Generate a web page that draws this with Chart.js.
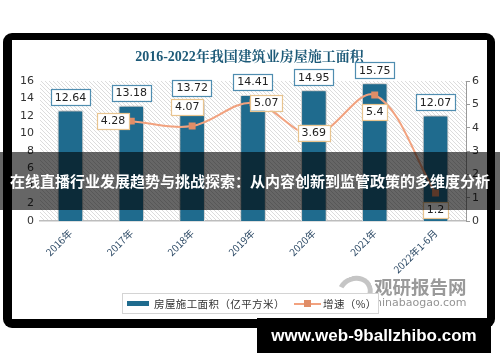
<!DOCTYPE html>
<html>
<head>
<meta charset="utf-8">
<script src="https://cdn.jsdelivr.net/npm/chart.js@4.4.0/dist/chart.umd.min.js"></script>
<style>
    body { margin: 0; width: 500px; height: 362px; background: #fff; position: relative; overflow: hidden; font-family: "Noto Sans CJK SC", sans-serif; }
    #frame { position: absolute; left: 3px; top: 33px; width: 492px; height: 295px; background: #000; border-radius: 9px; }
    #inner { position: absolute; left: 12px; top: 40px; width: 475px; height: 279px; background: #fff; }
    #chartbox { position: absolute; left: 12px; top: 40px; width: 475px; height: 279px; }
    #legend { position: absolute; left: 122px; top: 293px; width: 255px; height: 19px; border: 1px solid #d4d4d4; background: #fff;
        font-size: 10.5px; color: #333; letter-spacing: 0.4px; line-height: 19px; white-space: nowrap; }
    #legend span { position: absolute; top: 0; }
    #logo { position: absolute; left: 337px; top: 276px; width: 26px; height: 22px; border-radius: 50%;
        border: 5px solid rgba(150,150,150,0.55); border-left-color: transparent; transform: rotate(-20deg); }
    #mark { position: absolute; left: 374px; top: 273px; color: rgba(120,120,120,0.75); font-weight: bold; font-size: 18.5px; }
    #mark2 { position: absolute; left: 369px; top: 296px; color: rgba(120,120,120,0.8); font-family: "DejaVu Sans", sans-serif; font-size: 11px; }
    #foot { position: absolute; left: 257px; top: 318px; width: 234px; height: 35px; background: #000; color: #fff; white-space: nowrap;
        font-family: "Liberation Sans", sans-serif; font-weight: bold; font-size: 17px; line-height: 35px; text-align: center; }
    #banner { position: absolute; left: 0; top: 152px; width: 500px; height: 58px; background: rgba(0,0,0,0.6); color: #fff;
        font-weight: bold; font-size: 15px; line-height: 58px; text-align: center; white-space: nowrap; }
</style>
</head>
<body>
<div id="frame"></div>
<div id="inner"></div>
<div id="chartbox"><canvas id="c" width="475" height="279"></canvas></div>
<div id="logo"></div>
<div id="mark">观研报告网</div>
<div id="mark2">chinabaogao.com</div>
<div id="legend">
    <span style="left:4px;top:7px;width:22px;height:5px;background:#1f6b8e"></span>
    <span style="left:31px">房屋施工面积（亿平方米）</span>
    <span style="left:171px;top:9px;width:27px;height:2px;background:#f2a27f"></span>
    <span style="left:181px;top:6px;width:7px;height:7px;background:#e08d67"></span>
    <span style="left:200px">增速（%）</span>
</div>
<div id="foot">www.web-9ballzhibo.com</div>
<div id="banner">在线直播行业发展趋势与挑战探索：从内容创新到监管政策的多维度分析</div>

<script>
// data
let years = ['2016年', '2017年', '2018年', '2019年', '2020年', '2021年', '2022年1-6月'];
let area = [12.64, 13.18, 13.72, 14.41, 14.95, 15.75, 12.07];
let growth = [null, 4.28, 4.07, 5.07, 3.69, 5.4, 1.2];
let growthPos = [null, 'left', 'aboveleft', 'right', 'center', 'below', 'below'];

let title = '2016-2022年我国建筑业房屋施工面积';

// diagonal hatch for the plot background
let makeHatch = function (ctx) {
    let p = document.createElement('canvas');
    p.width = 4; p.height = 4;
    let g = p.getContext('2d');
    g.fillStyle = '#fff';
    g.fillRect(0, 0, 4, 4);
    g.strokeStyle = '#dcdcdc';
    g.lineWidth = 1;
    g.beginPath();
    g.moveTo(-1, -1); g.lineTo(5, 5);
    g.stroke();
    return ctx.createPattern(p, 'repeat');
}

let drawBox = function (ctx, text, cx, cy, border) {
    ctx.font = '11px "DejaVu Sans", sans-serif';
    let w = ctx.measureText(text).width + 8;
    let h = 16;
    ctx.fillStyle = '#fff';
    ctx.fillRect(cx - w / 2, cy - h / 2, w, h);
    ctx.strokeStyle = border;
    ctx.lineWidth = 1.2;
    ctx.strokeRect(Math.round(cx - w / 2) + 0.5, Math.round(cy - h / 2) + 0.5, Math.round(w), h);
    ctx.fillStyle = '#222';
    ctx.textAlign = 'center';
    ctx.textBaseline = 'middle';
    ctx.fillText(text, cx, cy + 0.5);
    return w;
}

let decor = {
    id: 'decor',
    beforeDraw(chart) {
        let ctx = chart.ctx;
        let a = chart.chartArea;
        ctx.save();
        ctx.fillStyle = makeHatch(ctx);
        ctx.fillRect(a.left, a.top, a.right - a.left, a.bottom - a.top);
        ctx.fillStyle = '#1d5a78';
        ctx.font = 'bold 14px "Liberation Serif", "Noto Serif CJK SC", serif';
        ctx.textAlign = 'center';
        ctx.textBaseline = 'middle';
        ctx.fillText(title, chart.width / 2, 17);
        ctx.restore();
    },
    beforeDatasetDraw(chart, args) {
        if (args.index === 0) {
            chart.ctx.save();
            chart.ctx.shadowColor = 'rgba(0,0,0,0.45)';
            chart.ctx.shadowBlur = 4;
        }
    },
    afterDatasetDraw(chart, args) {
        if (args.index === 0) chart.ctx.restore();
    },
    afterDatasetsDraw(chart) {
        let ctx = chart.ctx;
        ctx.save();
        chart.getDatasetMeta(0).data.forEach((bar, i) => {
            drawBox(ctx, area[i].toFixed(2), bar.x, bar.y - 13, '#4f8db0');
        });
        chart.getDatasetMeta(1).data.forEach((pt, i) => {
            if (growth[i] == null) return;
            let t = String(growth[i]);
            ctx.font = '11px "DejaVu Sans", sans-serif';
            let w = ctx.measureText(t).width + 8;
            let x = pt.x, y = pt.y;
            let pos = growthPos[i];
            if (pos === 'left') x = pt.x - w / 2 - 2;
            if (pos === 'right') x = pt.x + w / 2 - 3;
            if (pos === 'aboveleft') { x = pt.x - 5; y = pt.y - 19; }
            if (pos === 'below') { y = pt.y + 17; }
            if (pos === 'center') { y = pt.y - 2; }
            drawBox(ctx, t, x, y, '#e8c48f');
        });
        ctx.restore();
    }
};

new Chart(document.getElementById('c'), {
    type: 'bar',
    data: {
        labels: years,
        datasets: [
            {
                label: '房屋施工面积（亿平方米）',
                data: area,
                backgroundColor: '#1f6b8e',
                borderColor: '#ffffff',
                borderWidth: 1,
                barPercentage: 0.42,
                categoryPercentage: 1,
                yAxisID: 'y',
                order: 2
            },
            {
                type: 'line',
                label: '增速（%）',
                data: growth,
                borderColor: '#f2a27f',
                borderWidth: 2,
                pointStyle: 'rect',
                pointRadius: 3.5,
                pointBackgroundColor: '#e08d67',
                pointBorderColor: '#e08d67',
                tension: 0.35,
                yAxisID: 'y1',
                order: 1
            }
        ]
    },
    options: {
        responsive: false,
        animation: false,
        layout: { padding: { top: 41, left: 0, right: 0, bottom: 0 } },
        plugins: {
            legend: { display: false },
            title: { display: false },
            tooltip: { enabled: false }
        },
        scales: {
            x: {
                grid: { display: false, drawTicks: false },
                border: { color: '#bdbdbd', width: 1.5 },
                ticks: {
                    minRotation: 45, maxRotation: 45, padding: 6,
                    color: '#2d4a66',
                    font: { size: 10, family: '"Noto Sans CJK SC", sans-serif' }
                },
                afterFit(s) { s.height = 98; s.paddingLeft = 0; s.paddingRight = 0; }
            },
            y: {
                position: 'left',
                min: 0, max: 16,
                grid: { display: false, drawTicks: false },
                border: { display: false },
                ticks: { stepSize: 2, color: '#333', padding: 6, font: { size: 11, family: '"DejaVu Sans", sans-serif' } },
                afterFit(s) { s.width = 28; }
            },
            y1: {
                position: 'right',
                min: 0, max: 6,
                grid: { drawOnChartArea: false, drawTicks: true, tickLength: 4, color: '#999' },
                border: { color: '#999' },
                ticks: { stepSize: 1, color: '#333', padding: 2, font: { size: 11, family: '"DejaVu Sans", sans-serif' } },
                afterFit(s) { s.width = 21; }
            }
        }
    },
    plugins: [decor]
});
</script>
</body>
</html>
